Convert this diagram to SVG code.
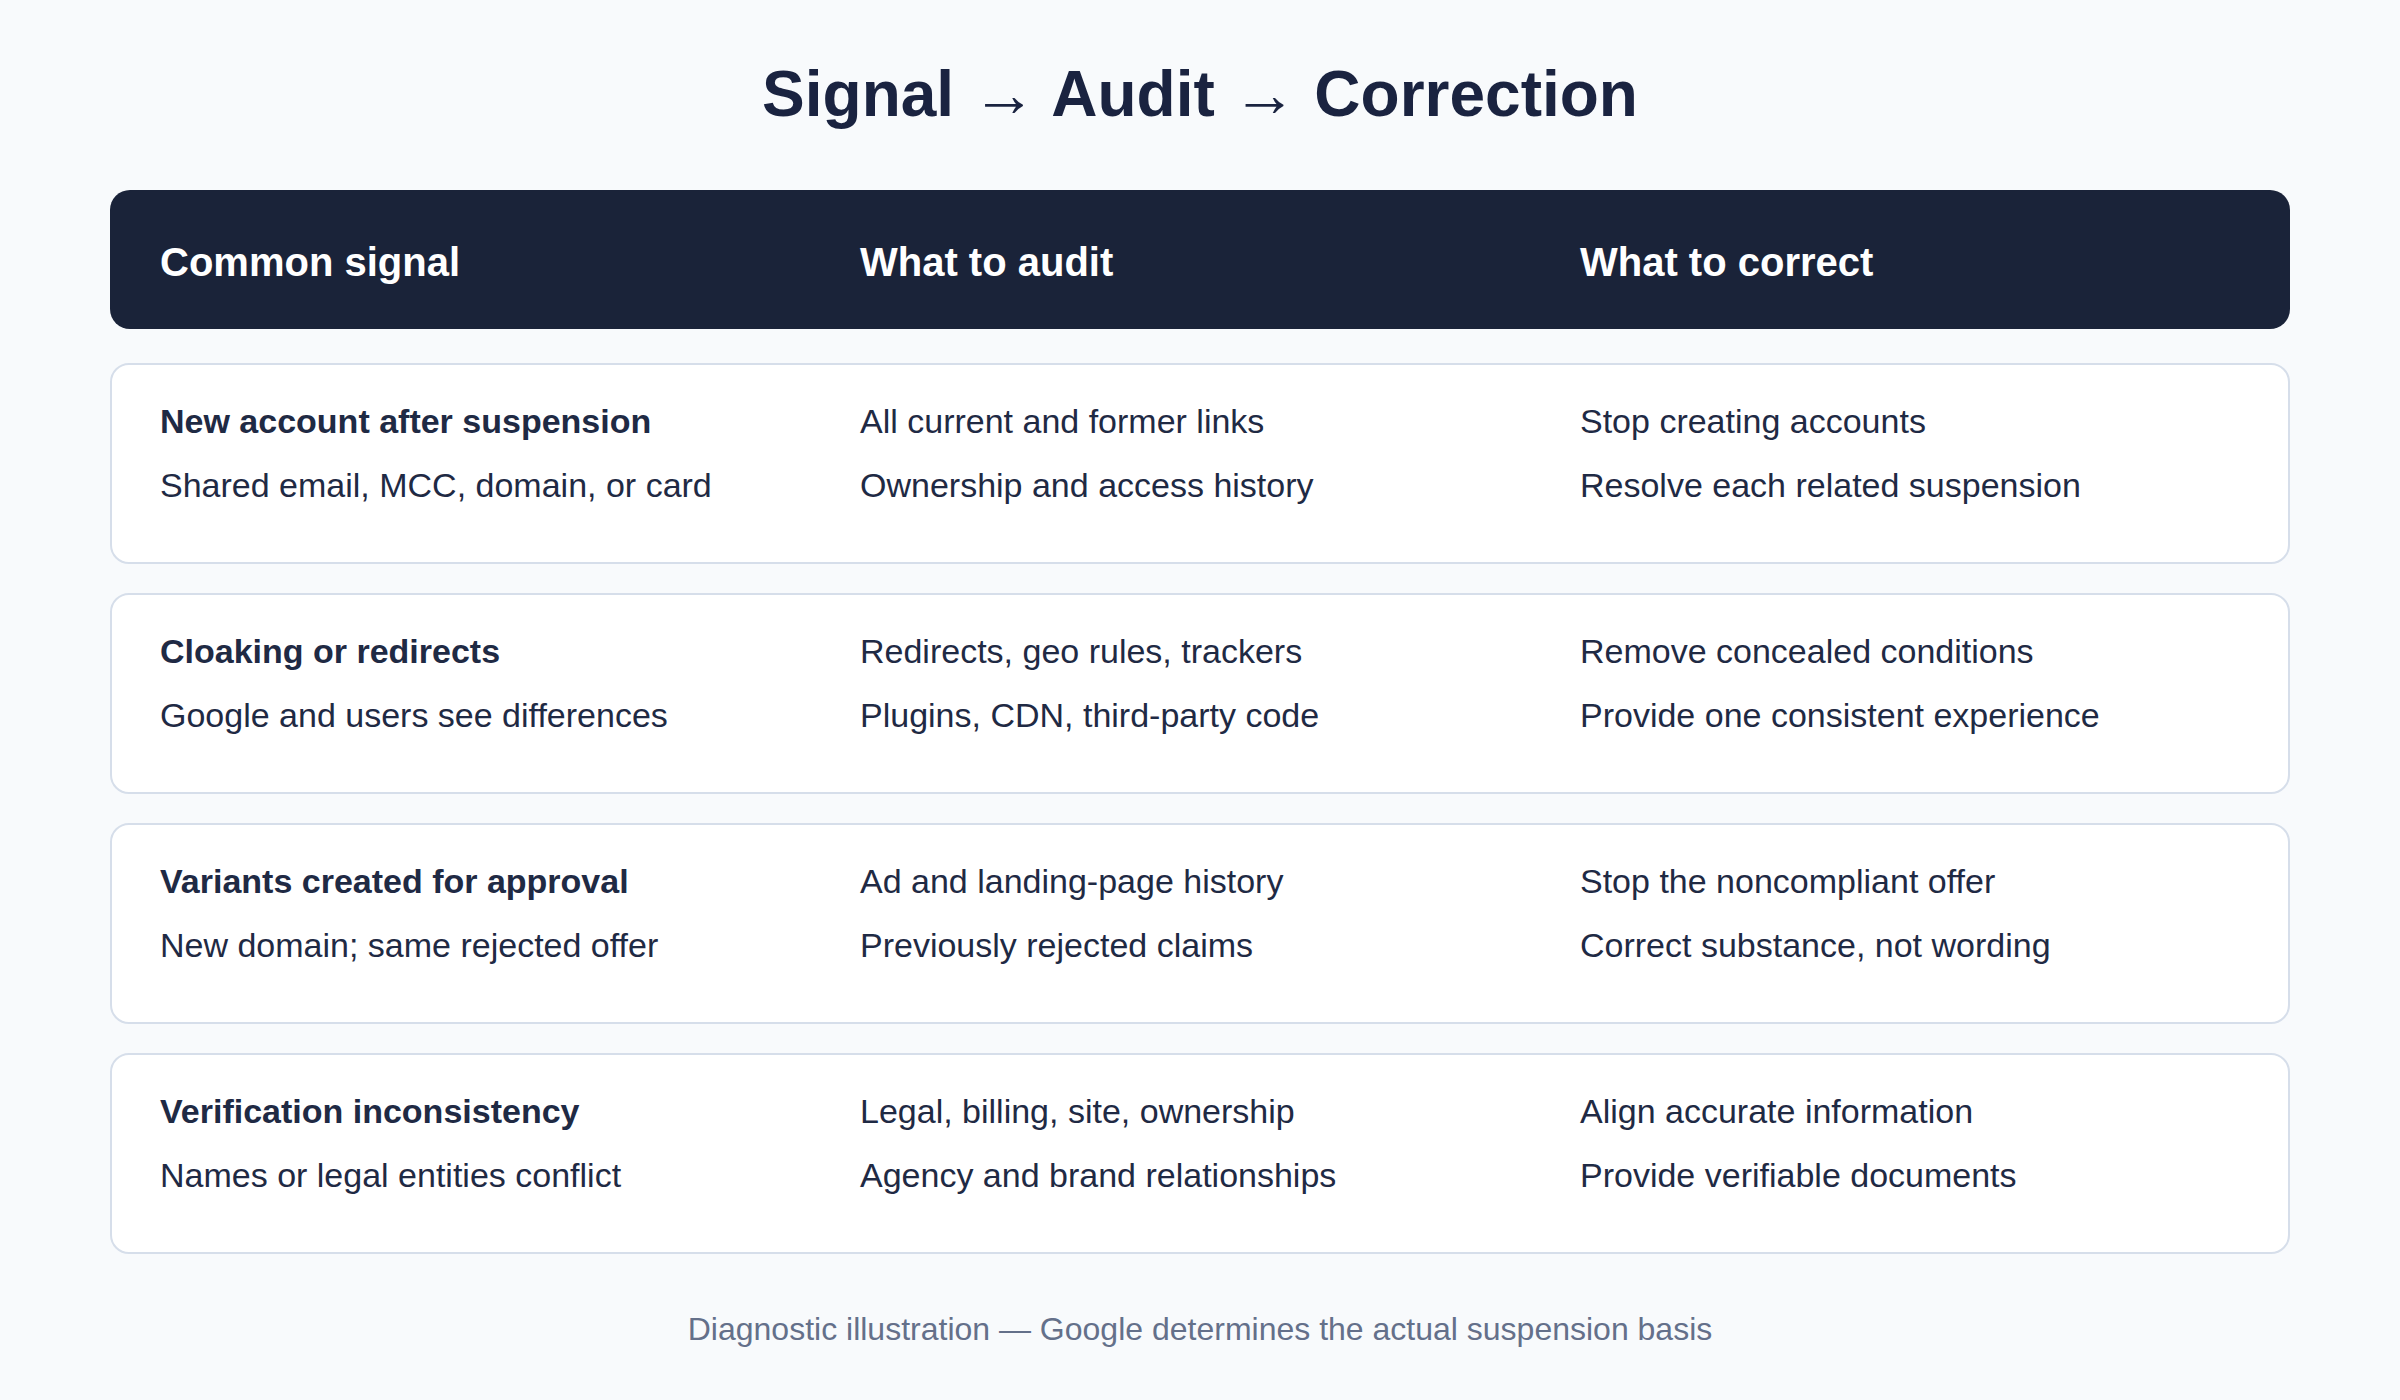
<svg xmlns="http://www.w3.org/2000/svg" width="2400" height="1400" viewBox="0 0 2400 1400">
  <style>
    text { font-family: "Liberation Sans", Arial, Helvetica, sans-serif; }
    .title { font-size: 64px; font-weight: 700; fill: #1a2340; }
    .hdr { font-size: 40px; font-weight: 700; fill: #ffffff; }
    .b { font-size: 34px; font-weight: 700; fill: #1f2a44; }
    .r { font-size: 34px; font-weight: 400; fill: #1f2a44; }
    .row { fill: #ffffff; stroke: #d6deea; stroke-width: 2; }
    .foot { font-size: 32px; fill: #64708a; }
  </style>
  <rect x="0" y="0" width="2400" height="1400" fill="#f8fafc"/>
  <text class="title" x="1200" y="116" text-anchor="middle">Signal → Audit → Correction</text>

  <g id="header">
    <rect x="110" y="190" width="2180" height="139" rx="20" ry="20" fill="#1a2339"/>
    <text class="hdr" x="160" y="276">Common signal</text>
    <text class="hdr" x="860" y="276">What to audit</text>
    <text class="hdr" x="1580" y="276">What to correct</text>
  </g>

  <g id="row1">
    <rect class="row" x="111" y="364" width="2178" height="199" rx="18" ry="18"/>
    <text class="b" x="160" y="432.5">New account after suspension</text>
    <text class="r" x="160" y="496.5">Shared email, MCC, domain, or card</text>
    <text class="r" x="860" y="432.5">All current and former links</text>
    <text class="r" x="860" y="496.5">Ownership and access history</text>
    <text class="r" x="1580" y="432.5">Stop creating accounts</text>
    <text class="r" x="1580" y="496.5">Resolve each related suspension</text>
  </g>

  <g id="row2">
    <rect class="row" x="111" y="594" width="2178" height="199" rx="18" ry="18"/>
    <text class="b" x="160" y="662.5">Cloaking or redirects</text>
    <text class="r" x="160" y="726.5">Google and users see differences</text>
    <text class="r" x="860" y="662.5">Redirects, geo rules, trackers</text>
    <text class="r" x="860" y="726.5">Plugins, CDN, third-party code</text>
    <text class="r" x="1580" y="662.5">Remove concealed conditions</text>
    <text class="r" x="1580" y="726.5">Provide one consistent experience</text>
  </g>

  <g id="row3">
    <rect class="row" x="111" y="824" width="2178" height="199" rx="18" ry="18"/>
    <text class="b" x="160" y="892.5">Variants created for approval</text>
    <text class="r" x="160" y="956.5">New domain; same rejected offer</text>
    <text class="r" x="860" y="892.5">Ad and landing-page history</text>
    <text class="r" x="860" y="956.5">Previously rejected claims</text>
    <text class="r" x="1580" y="892.5">Stop the noncompliant offer</text>
    <text class="r" x="1580" y="956.5">Correct substance, not wording</text>
  </g>

  <g id="row4">
    <rect class="row" x="111" y="1054" width="2178" height="199" rx="18" ry="18"/>
    <text class="b" x="160" y="1122.5">Verification inconsistency</text>
    <text class="r" x="160" y="1186.5">Names or legal entities conflict</text>
    <text class="r" x="860" y="1122.5">Legal, billing, site, ownership</text>
    <text class="r" x="860" y="1186.5">Agency and brand relationships</text>
    <text class="r" x="1580" y="1122.5">Align accurate information</text>
    <text class="r" x="1580" y="1186.5">Provide verifiable documents</text>
  </g>

  <g id="connectors"/>

  <text class="foot" x="1200" y="1340" text-anchor="middle">Diagnostic illustration — Google determines the actual suspension basis</text>
</svg>
